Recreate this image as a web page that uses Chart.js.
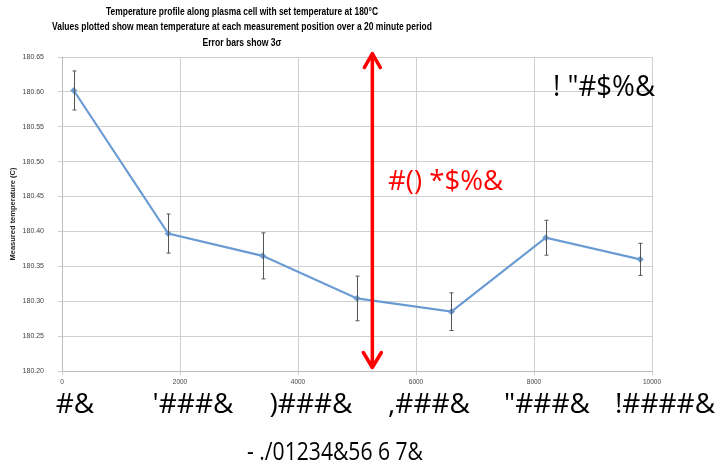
<!DOCTYPE html>
<html>
<head>
<meta charset="utf-8">
<script src="https://cdn.jsdelivr.net/npm/chart.js@4"></script>
<style>
	html, body { margin:0; padding:0; background:#fff; }
	canvas { display:block; }
</style>
</head>
<body>
<canvas id="chart" width="720" height="463"></canvas>
<script>
// measurement positions along the cell
var positions = [200, 1800, 3400, 5000, 6600, 8200, 9800];
// mean temperature at each position (C)
var meanTemps = [180.602, 180.397, 180.365, 180.304, 180.285, 180.391, 180.360];
// 3 sigma error at each position
var errors3s = [0.028, 0.028, 0.033, 0.032, 0.027, 0.025, 0.023];

var xTicks = [0, 2000, 4000, 6000, 8000, 10000];
var bigTickLabels = ['#&', '\'###&', ')###&', ',###&', '"###&', '!####&'];

var titleLines = [
	'Temperature profile along plasma cell with set temperature at 180°C',
	'Values plotted show mean temperature at each measurement position over a 20 minute period',
	'Error bars show 3σ'
];
var titleWidths = [272, 380, 79];

var bigAxisTitle = '- ./01234&56 6 7&';
var cornerNote = '! "#$%&';
var arrowNote = '#() *$%&';
// arrow drawn in data units
var arrowX = 5260;
var arrowTop = 180.655;
var arrowBottom = 180.205;

var lineBlue = '#6a9bd3';
var gridGrey = '#cfcfcf';

var extras = {
	id:'extras',
	afterDatasetsDraw:function(chart) {
		var ctx = chart.ctx;
		var xs = chart.scales.x, ys = chart.scales.y;

		// error bars
		ctx.save();
		ctx.strokeStyle = '#555';
		ctx.lineWidth = 1;
		for (var i = 0; i < positions.length; i++) {
			var px = Math.round(xs.getPixelForValue(positions[i])) + 0.5;
			var top = ys.getPixelForValue(meanTemps[i] + errors3s[i]);
			var bot = ys.getPixelForValue(meanTemps[i] - errors3s[i]);
			ctx.beginPath();
			ctx.moveTo(px, top); ctx.lineTo(px, bot);
			ctx.moveTo(px - 2, top); ctx.lineTo(px + 2, top);
			ctx.moveTo(px - 2, bot); ctx.lineTo(px + 2, bot);
			ctx.stroke();
		}
		ctx.restore();
	},
	afterDraw:function(chart) {
		var ctx = chart.ctx;
		var xs = chart.scales.x, ys = chart.scales.y;

		ctx.save();
		// title
		ctx.fillStyle = '#000';
		ctx.textAlign = 'center';
		ctx.textBaseline = 'middle';
		ctx.font = 'bold 10.5px "Liberation Sans Narrow", "Liberation Sans", sans-serif';
		for (var t = 0; t < titleLines.length; t++) {
			ctx.fillText(titleLines[t], 242, 12 + t * 15.5, titleWidths[t]);
		}

		// red arrow
		var ax = xs.getPixelForValue(arrowX);
		var aTop = ys.getPixelForValue(arrowTop);
		var aBot = ys.getPixelForValue(arrowBottom);
		ctx.strokeStyle = '#ff0000';
		ctx.lineWidth = 3.5;
		ctx.lineCap = 'round';
		ctx.lineJoin = 'round';
		ctx.beginPath();
		ctx.moveTo(ax, aTop + 1); ctx.lineTo(ax, aBot - 1);
		ctx.moveTo(ax - 8, aTop + 14); ctx.lineTo(ax, aTop); ctx.lineTo(ax + 8, aTop + 14);
		ctx.moveTo(ax - 9, aBot - 15); ctx.lineTo(ax, aBot); ctx.lineTo(ax + 9, aBot - 15);
		ctx.stroke();

		// notes
		ctx.textAlign = 'left';
		ctx.textBaseline = 'alphabetic';
		ctx.fillStyle = '#ff0000';
		ctx.font = '28px "Open Sans", sans-serif';
		ctx.fillText(arrowNote, 388, 190, 115);

		ctx.fillStyle = '#000';
		ctx.font = '30px "Open Sans", sans-serif';
		ctx.fillText(cornerNote, 553, 96, 102);

		// large tick labels under the axis
		ctx.textAlign = 'center';
		ctx.font = '28px "Open Sans", sans-serif';
		for (var k = 0; k < xTicks.length; k++) {
			ctx.fillText(bigTickLabels[k], xs.getPixelForValue(xTicks[k]) + 13, 413);
		}
		ctx.font = '25px "Open Sans", sans-serif';
		ctx.fillText(bigAxisTitle, 335, 460, 176);
		ctx.restore();
	}
};

var ctx = document.getElementById('chart').getContext('2d');
var chart = new Chart(ctx, {
	type:'line',
	data:{
		datasets:[{
			data:positions.map(function(x, i) { return {x:x, y:meanTemps[i]}; }),
			borderColor:lineBlue,
			backgroundColor:lineBlue,
			borderWidth:2.2,
			pointStyle:'rectRot',
			pointRadius:3,
			pointBorderWidth:1,
			tension:0
		}]
	},
	options:{
		responsive:false,
		animation:false,
		layout:{padding:{top:57, right:68, left:0, bottom:0}},
		plugins:{
			legend:{display:false},
			tooltip:{enabled:false},
			title:{display:false}
		},
		scales:{
			x:{
				type:'linear',
				min:0,
				max:10000,
				ticks:{
					stepSize:2000,
					maxRotation:0,
					padding:3,
					color:'#444',
					font:{family:'"Liberation Sans Narrow", "Liberation Sans", sans-serif', size:6.5},
					callback:function(v) { return String(v); }
				},
				grid:{color:gridGrey, tickLength:4},
				border:{color:'#bdbdbd'},
				afterFit:function(scale) { scale.height = 92; }
			},
			y:{
				min:180.2,
				max:180.65,
				ticks:{
					stepSize:0.05,
					padding:14,
					color:'#444',
					font:{family:'"Liberation Sans Narrow", "Liberation Sans", sans-serif', size:7},
					callback:function(v) { return Number(v).toFixed(2); }
				},
				grid:{color:gridGrey, tickLength:4},
				border:{color:'#bdbdbd'},
				title:{
					display:true,
					text:'Measured temperature (C)',
					color:'#222',
					padding:{top:8, bottom:0},
					font:{family:'"Liberation Sans Narrow", "Liberation Sans", sans-serif', size:7.5, weight:'bold'}
				},
				afterFit:function(scale) { scale.width = 62; }
			}
		}
	},
	plugins:[extras]
});
</script>
</body>
</html>
